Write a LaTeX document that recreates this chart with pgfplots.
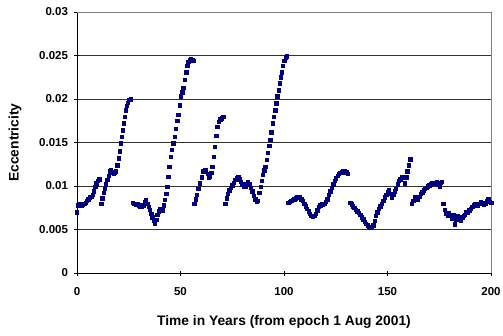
\documentclass[border=0pt]{standalone}
\usepackage{fontspec}
\setmainfont{Liberation Sans}
\usepackage{pgfplots}
\usepackage{pgfplotstable}
\pgfplotsset{compat=1.18}
\definecolor{navy}{RGB}{0,0,128}
\pgfplotstableread{
t e
0 0.0070
0.6 0.0078
1.3 0.0079
2.0 0.0078
2.7 0.0079
3.4 0.0080
4.1 0.0081
4.8 0.0083
5.5 0.0085
6.2 0.0087
6.9 0.0088
7.5 0.0090
8.1 0.0094
8.7 0.0099
9.3 0.0103
9.9 0.0106
10.5 0.0108
11.0 0.0108
11.6 0.0080
12.2 0.0086
12.8 0.0092
13.4 0.0097
14.0 0.0102
14.6 0.0107
15.2 0.0112
15.8 0.0117
16.4 0.0119
17.0 0.0116
17.6 0.0114
18.2 0.0115
18.8 0.0117
19.4 0.0124
20.0 0.0132
20.6 0.0140
21.1 0.0149
21.6 0.0157
22.0 0.0164
22.5 0.0172
22.9 0.0180
23.4 0.0187
24.0 0.0192
24.6 0.0196
25.3 0.0199
26.0 0.0200
27.0 0.0081
27.7 0.0080
28.4 0.0079
29.1 0.0079
29.8 0.0078
30.5 0.0077
31.2 0.0076
31.9 0.0078
32.6 0.0082
33.3 0.0084
34.0 0.0080
34.6 0.0076
35.2 0.0073
35.8 0.0068
36.4 0.0064
37.0 0.0060
37.6 0.0057
38.2 0.0061
38.8 0.0067
39.4 0.0071
40.0 0.0074
40.7 0.0073
41.4 0.0072
42.0 0.0078
42.5 0.0084
43.0 0.0091
43.5 0.0099
44.0 0.0111
44.6 0.0122
45.2 0.0134
45.8 0.0142
46.5 0.0149
47.1 0.0157
47.8 0.0166
48.4 0.0175
48.9 0.0182
49.5 0.0193
50.1 0.0203
50.8 0.0208
51.4 0.0213
52.0 0.0222
52.7 0.0231
53.3 0.0238
53.8 0.0243
54.4 0.0245
54.9 0.0246
55.6 0.0245
56.2 0.0244
56.6 0.0080
57.2 0.0085
57.8 0.0090
58.6 0.0097
59.4 0.0103
60.2 0.0110
61.0 0.0117
61.7 0.0119
62.3 0.0118
63.0 0.0114
63.6 0.0110
64.2 0.0111
64.8 0.0115
65.4 0.0122
66.0 0.0134
66.6 0.0145
67.2 0.0158
67.8 0.0168
68.5 0.0174
69.2 0.0177
70.0 0.0178
70.7 0.0180
71.5 0.0080
72.2 0.0086
72.9 0.0091
73.6 0.0095
74.3 0.0098
75.0 0.0101
75.7 0.0104
76.4 0.0107
77.1 0.0109
77.8 0.0111
78.5 0.0108
79.2 0.0105
79.9 0.0102
80.6 0.0100
81.2 0.0099
81.9 0.0102
82.6 0.0105
83.3 0.0102
84.0 0.0098
84.7 0.0094
85.4 0.0089
86.1 0.0085
86.8 0.0082
87.4 0.0083
88.0 0.0092
88.6 0.0099
89.2 0.0106
89.8 0.0113
90.4 0.0118
91.0 0.0122
91.6 0.0130
92.2 0.0138
92.8 0.0146
93.3 0.0153
93.9 0.0162
94.5 0.0172
95.1 0.0180
95.7 0.0187
96.2 0.0195
96.8 0.0203
97.3 0.0210
97.8 0.0218
98.4 0.0225
98.9 0.0231
99.5 0.0238
100.1 0.0244
100.7 0.0248
101.3 0.0249
102.1 0.0081
102.8 0.0082
103.5 0.0083
104.2 0.0084
104.9 0.0085
105.6 0.0086
106.3 0.0087
106.9 0.0088
107.6 0.0087
108.3 0.0085
109.0 0.0083
109.7 0.0080
110.4 0.0077
111.1 0.0074
111.8 0.0071
112.5 0.0068
113.2 0.0066
113.9 0.0065
114.6 0.0066
115.3 0.0068
116.0 0.0072
116.7 0.0076
117.4 0.0078
118.1 0.0079
118.8 0.0079
119.5 0.0080
120.2 0.0082
120.9 0.0085
121.6 0.0090
122.3 0.0094
123.0 0.0098
123.7 0.0102
124.4 0.0106
125.1 0.0109
125.8 0.0112
126.5 0.0114
127.2 0.0115
127.9 0.0116
128.6 0.0117
129.3 0.0117
130.0 0.0116
130.7 0.0114
131.9 0.0081
132.6 0.0079
133.3 0.0077
134.0 0.0075
134.7 0.0073
135.4 0.0071
136.1 0.0069
136.8 0.0067
137.5 0.0064
138.2 0.0062
138.9 0.0059
139.6 0.0057
140.3 0.0055
141.0 0.0053
141.6 0.0052
142.3 0.0053
143.0 0.0055
143.7 0.0060
144.4 0.0066
145.1 0.0070
145.8 0.0074
146.5 0.0077
147.2 0.0080
147.9 0.0083
148.6 0.0087
149.3 0.0090
150.0 0.0093
150.7 0.0095
151.4 0.0091
152.0 0.0087
152.7 0.0090
153.4 0.0094
154.1 0.0097
154.8 0.0102
155.5 0.0106
156.2 0.0108
156.9 0.0110
157.6 0.0111
158.3 0.0103
159.0 0.0110
159.6 0.0117
160.3 0.0124
161.0 0.0131
161.8 0.0080
162.5 0.0083
163.2 0.0088
163.9 0.0086
164.6 0.0085
165.3 0.0088
166.0 0.0091
166.7 0.0093
167.4 0.0095
168.1 0.0097
168.8 0.0098
169.5 0.0100
170.2 0.0101
170.9 0.0102
171.6 0.0103
172.3 0.0104
173.0 0.0103
173.7 0.0105
174.4 0.0102
175.1 0.0100
175.8 0.0104
176.3 0.0105
177.0 0.0080
177.6 0.0073
178.3 0.0068
179.0 0.0066
179.7 0.0069
180.4 0.0066
181.1 0.0063
181.8 0.0067
182.5 0.0056
183.2 0.0062
183.9 0.0066
184.6 0.0063
185.3 0.0060
186.0 0.0064
186.7 0.0066
187.4 0.0067
188.1 0.0070
188.8 0.0069
189.5 0.0072
190.2 0.0074
190.9 0.0076
191.6 0.0078
192.3 0.0080
193.0 0.0079
193.7 0.0078
194.4 0.0080
195.1 0.0082
195.8 0.0081
196.5 0.0079
197.2 0.0080
197.9 0.0083
198.6 0.0085
199.3 0.0082
200.0 0.0081
}\ecc
\begin{document}
\begin{tikzpicture}
\begin{axis}[
  scale only axis, width=414pt, height=261pt,
  xmin=0, xmax=200, ymin=0, ymax=0.03,
  scaled y ticks=false, scaled x ticks=false,
  axis x line*=bottom, axis y line*=left,
  axis line style={black, line width=0.7pt, -},
  xtick={0,50,100,150,200},
  xticklabels={0,50,100,150,200},
  ytick={0,0.005,0.01,0.015,0.02,0.025,0.03},
  yticklabels={0,0.005,0.01,0.015,0.02,0.025,0.03},
  tick align=center, major tick length=5pt,
  tick style={black, line width=0.7pt},
  ticklabel style={font=\fontsize{11.5}{13}\selectfont\bfseries},
  yticklabel style={xshift=-3pt},
  xticklabel style={yshift=-8pt},
  ymajorgrids, grid style={black!80, line width=0.6pt},
  xlabel={Time in Years (from epoch 1 Aug 2001)},
  ylabel={Eccentricity},
  every axis x label/.style={at={(axis description cs:0.5,0)}, yshift=-49pt, anchor=center, font=\fontsize{13.8}{15}\selectfont\bfseries},
  every axis y label/.style={at={(axis description cs:0,0.5)}, xshift=-62pt, rotate=90, anchor=center, font=\fontsize{13.8}{15}\selectfont\bfseries},
  clip=false,
]
\draw[gray, line width=0.7pt] (rel axis cs:0,1) -- (rel axis cs:1,1) -- (rel axis cs:1,0);
\addplot[only marks, mark=square*, mark size=1.7pt, color=navy, mark options={draw=navy, fill=navy}] table[x=t, y=e] {\ecc};
\end{axis}
\pgfresetboundingbox
\path[use as bounding box] (-77pt,-62pt) rectangle (426pt,273pt);
\end{tikzpicture}
\end{document}
